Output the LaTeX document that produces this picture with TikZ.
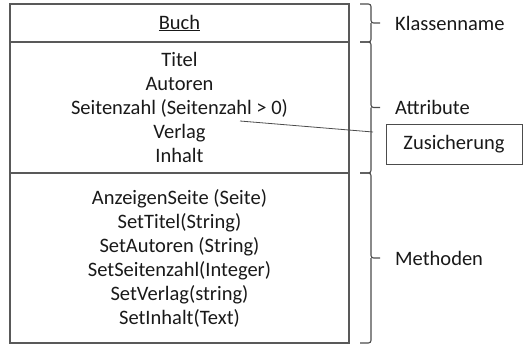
\documentclass[tikz,border=0pt]{standalone}
\usepackage{fontspec}
\setmainfont{Carlito}
\usepackage{tikz}
\usetikzlibrary{positioning}

\begin{document}
\begin{tikzpicture}[x=1pt, y=-1pt,
  every node/.style={font=\fontsize{20.5}{24}\selectfont, text=black!90},
  fach/.style={draw=black!65, line width=1.1pt, minimum width=339pt, inner sep=0pt, outer sep=0pt, align=center},
  rahmen/.style={draw=black!65, line width=1.8pt},
  klammer/.style={draw=black!70, line width=1.1pt, rounded corners=2.5pt},
  beschriftung/.style={anchor=west, inner sep=0pt},
  linie/.style={draw=black!70, line width=0.8pt}]
  \useasboundingbox (0,0) rectangle (523,346);

  % die Klasse mit ihren drei Faechern
  \node[fach, minimum height=38pt] (klasse) at (179.5,23) {\underline{Buch}};
  \node[fach, minimum height=131pt, below=0pt of klasse] (attribute)
    {Titel\\Autoren\\Seitenzahl (Seitenzahl > 0)\\Verlag\\Inhalt};
  \node[fach, minimum height=170pt, below=0pt of attribute, yshift=0pt] (methoden)
    {AnzeigenSeite (Seite)\\SetTitel(String)\\SetAutoren (String)\\SetSeitenzahl(Integer)\\SetVerlag(string)\\SetInhalt(Text)};
  \draw[rahmen] (klasse.north west) rectangle (methoden.south east);

  % Klammern rechts
  \foreach \fach/\beschr in {klasse/Klassenname, attribute/Attribute, methoden/Methoden} {
    \draw[klammer] ([xshift=11pt]\fach.north east) -| ([xshift=22pt]\fach.east) -- ([xshift=31pt]\fach.east)
      ([xshift=22pt]\fach.east) |- ([xshift=11pt]\fach.south east);
    \node[beschriftung] (\beschr-l) at ([xshift=46pt]\fach.east) {\beschr};
  }

  % Zusicherung
  \node[draw=black!70, line width=0.8pt, minimum width=136pt, minimum height=40pt, inner sep=0pt] (zusicherung) at (454,144) {Zusicherung};
  \coordinate (zs-anfang) at (240,121);
  \coordinate (zs-ende) at (373,132);
  \draw[linie] (zs-anfang) -- (zs-ende);
\end{tikzpicture}
\end{document}
